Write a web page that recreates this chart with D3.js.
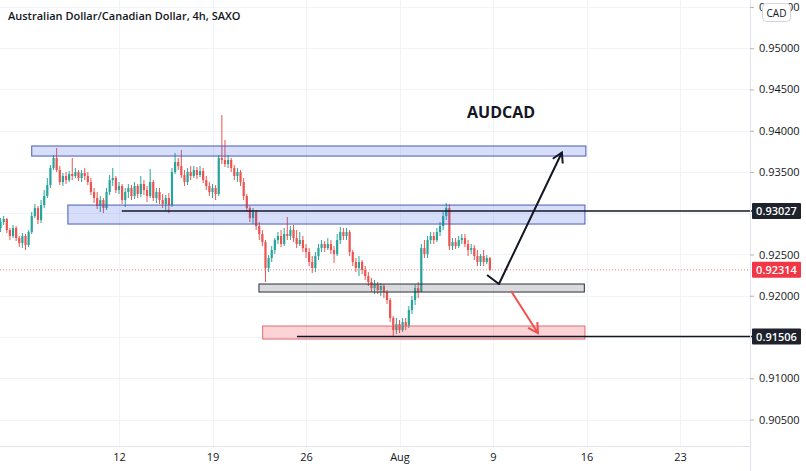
<!DOCTYPE html>
<html><head><meta charset="utf-8">
<script src="https://cdn.jsdelivr.net/npm/d3@7"></script>
<style>
body{margin:0;background:#fff;}
svg{display:block;font-family:"Open Sans","Noto Sans",sans-serif;}
</style>
</head><body>
<svg id="chart" width="806" height="471"></svg>
<script>
// ---- DATA ----
const title = "Australian Dollar/Canadian Dollar, 4h, SAXO";
const symbolText = "AUDCAD";
const currency = "CAD";
const opens = [0.92821,0.92893,0.92930,0.92796,0.92724,0.92821,0.92699,0.92639,0.92724,0.92615,
 0.92772,0.92966,0.93063,0.92918,0.93099,0.93208,0.93342,0.93548,0.93669,0.93524,
 0.93378,0.93451,0.93402,0.93475,0.93451,0.93499,0.93427,0.93487,0.93451,0.93378,
 0.93257,0.93184,0.93087,0.93160,0.93063,0.93257,0.93402,0.93427,0.93281,0.93330,
 0.93160,0.93257,0.93305,0.93208,0.93330,0.93233,0.93354,0.93281,0.93208,0.93378,
 0.93184,0.93257,0.93160,0.93112,0.93184,0.93099,0.93499,0.93621,0.93572,0.93463,
 0.93378,0.93499,0.93451,0.93524,0.93463,0.93511,0.93402,0.93330,0.93257,0.93305,
 0.93233,0.93669,0.93645,0.93596,0.93645,0.93548,0.93451,0.93499,0.93378,0.93208,
 0.93063,0.92942,0.93015,0.92845,0.92748,0.92651,0.92336,0.92457,0.92554,0.92675,
 0.92724,0.92627,0.92748,0.92724,0.92796,0.92699,0.92627,0.92675,0.92578,0.92530,
 0.92409,0.92336,0.92481,0.92578,0.92627,0.92578,0.92627,0.92554,0.92505,0.92675,
 0.92772,0.92724,0.92772,0.92530,0.92409,0.92336,0.92409,0.92312,0.92239,0.92166,
 0.92093,0.92142,0.92069,0.92118,0.92045,0.91948,0.91730,0.91584,0.91657,0.91584,
 0.91681,0.91633,0.91827,0.91948,0.92093,0.92045,0.92578,0.92505,0.92675,0.92724,
 0.92675,0.92772,0.92845,0.92966,0.93063,0.92602,0.92651,0.92602,0.92675,0.92699,
 0.92627,0.92554,0.92578,0.92481,0.92409,0.92481,0.92409,0.92457];
const highs = [0.92942,0.92966,0.92942,0.92821,0.92857,0.92845,0.92724,0.92760,0.92748,0.92796,
 0.93015,0.93112,0.93087,0.93160,0.93281,0.93427,0.93584,0.93705,0.93790,0.93572,
 0.93487,0.93499,0.93511,0.93669,0.93548,0.93524,0.93524,0.93548,0.93499,0.93427,
 0.93305,0.93257,0.93208,0.93184,0.93305,0.93463,0.93548,0.93451,0.93378,0.93354,
 0.93305,0.93354,0.93342,0.93378,0.93354,0.93451,0.93402,0.93330,0.93536,0.93402,
 0.93305,0.93305,0.93233,0.93221,0.93245,0.93548,0.93730,0.93669,0.93766,0.93524,
 0.93548,0.93572,0.93572,0.93560,0.93572,0.93548,0.93451,0.93378,0.93354,0.93342,
 0.93705,0.94190,0.93887,0.93705,0.93669,0.93584,0.93548,0.93524,0.93427,0.93233,
 0.93087,0.93063,0.93039,0.92893,0.92796,0.92675,0.92493,0.92602,0.92699,0.92772,
 0.92796,0.92821,0.92954,0.92845,0.92857,0.92796,0.92772,0.92724,0.92627,0.92578,
 0.92481,0.92530,0.92627,0.92675,0.92663,0.92699,0.92675,0.92602,0.92748,0.92833,
 0.92821,0.92821,0.92796,0.92554,0.92457,0.92481,0.92433,0.92360,0.92287,0.92214,
 0.92190,0.92166,0.92154,0.92142,0.92069,0.91972,0.91754,0.91730,0.91706,0.91730,
 0.91730,0.91875,0.91997,0.92142,0.92166,0.92627,0.92675,0.92724,0.92772,0.92772,
 0.92821,0.92893,0.93015,0.93124,0.93112,0.92699,0.92699,0.92724,0.92748,0.92748,
 0.92675,0.92627,0.92615,0.92554,0.92505,0.92554,0.92493,0.92469];
const lows = [0.92772,0.92857,0.92760,0.92675,0.92699,0.92663,0.92590,0.92578,0.92554,0.92590,
 0.92748,0.92942,0.92869,0.92881,0.93063,0.93184,0.93305,0.93524,0.93499,0.93342,
 0.93330,0.93354,0.93378,0.93402,0.93427,0.93390,0.93378,0.93402,0.93342,0.93221,
 0.93124,0.93051,0.93015,0.93002,0.93039,0.93221,0.93330,0.93245,0.93233,0.93112,
 0.93075,0.93184,0.93160,0.93172,0.93184,0.93196,0.93221,0.93136,0.93184,0.93148,
 0.93124,0.93112,0.93063,0.93039,0.93002,0.93075,0.93475,0.93524,0.93427,0.93330,
 0.93342,0.93402,0.93427,0.93415,0.93439,0.93366,0.93281,0.93208,0.93184,0.93160,
 0.93208,0.93596,0.93560,0.93548,0.93499,0.93402,0.93378,0.93330,0.93160,0.93015,
 0.92893,0.92869,0.92796,0.92675,0.92602,0.92166,0.92287,0.92409,0.92505,0.92627,
 0.92590,0.92602,0.92675,0.92675,0.92651,0.92578,0.92602,0.92530,0.92457,0.92360,
 0.92275,0.92287,0.92433,0.92530,0.92530,0.92554,0.92505,0.92396,0.92481,0.92627,
 0.92675,0.92675,0.92481,0.92360,0.92287,0.92239,0.92263,0.92190,0.92118,0.92045,
 0.92021,0.92021,0.91997,0.91972,0.91900,0.91681,0.91500,0.91536,0.91548,0.91560,
 0.91584,0.91609,0.91778,0.91887,0.91972,0.92045,0.92457,0.92457,0.92627,0.92627,
 0.92651,0.92724,0.92796,0.92918,0.92554,0.92554,0.92566,0.92578,0.92627,0.92590,
 0.92481,0.92505,0.92433,0.92360,0.92360,0.92360,0.92384,0.92299];
const closes = [0.92893,0.92930,0.92796,0.92724,0.92821,0.92699,0.92639,0.92724,0.92615,0.92772,
 0.92966,0.93063,0.92918,0.93099,0.93208,0.93342,0.93548,0.93669,0.93524,0.93378,
 0.93451,0.93402,0.93475,0.93451,0.93499,0.93427,0.93487,0.93451,0.93378,0.93257,
 0.93184,0.93087,0.93160,0.93063,0.93257,0.93402,0.93427,0.93281,0.93330,0.93160,
 0.93257,0.93305,0.93208,0.93330,0.93233,0.93354,0.93281,0.93208,0.93378,0.93184,
 0.93257,0.93160,0.93112,0.93184,0.93099,0.93499,0.93621,0.93572,0.93463,0.93378,
 0.93499,0.93451,0.93524,0.93463,0.93511,0.93402,0.93330,0.93257,0.93305,0.93233,
 0.93669,0.93645,0.93596,0.93645,0.93548,0.93451,0.93499,0.93378,0.93208,0.93063,
 0.92942,0.93015,0.92845,0.92748,0.92651,0.92336,0.92457,0.92554,0.92675,0.92724,
 0.92627,0.92748,0.92724,0.92796,0.92699,0.92627,0.92675,0.92578,0.92530,0.92409,
 0.92336,0.92481,0.92578,0.92627,0.92578,0.92627,0.92554,0.92505,0.92675,0.92772,
 0.92724,0.92772,0.92530,0.92409,0.92336,0.92409,0.92312,0.92239,0.92166,0.92093,
 0.92142,0.92069,0.92118,0.92045,0.91948,0.91730,0.91584,0.91657,0.91584,0.91681,
 0.91633,0.91827,0.91948,0.92093,0.92045,0.92578,0.92505,0.92675,0.92724,0.92675,
 0.92772,0.92845,0.92966,0.93063,0.92602,0.92651,0.92602,0.92675,0.92699,0.92627,
 0.92554,0.92578,0.92481,0.92409,0.92481,0.92409,0.92457,0.92314];

// time axis: bar index of each date label
const dateTickBars = [38, 68, 98, 128, 158, 188, 218];
const dateTickLabels = ["12", "19", "26", "Aug", "9", "16", "23"];
// price axis
const priceTicks = [0.955, 0.95, 0.945, 0.94, 0.935, 0.93, 0.925, 0.92, 0.915, 0.91, 0.905];
const hiddenPriceLabels = [0.93, 0.915];
// drawings (in bar index / price)
const zoneKind   = ["blue", "blue", "gray", "pink"];
const zoneStart  = [10.0, 21.6, 82.9, 84.1];
const zoneEnd    = [187.8, 187.5, 187.3, 187.5];
const zoneTop    = [0.93815, 0.93099, 0.92142, 0.91633];
const zoneBottom = [0.93693, 0.92869, 0.92045, 0.91475];
const levelPrices = [0.93027, 0.91506];
const levelStart  = [38.9, 95.1];
const lastPrice = 0.92314;
const bullPathBars   = [156.1, 159.9, 180.1];
const bullPathPrices = [0.92251, 0.92142, 0.93736];
const bearPathBars   = [163.8, 172.4];
const bearPathPrices = [0.92057, 0.91548];
const symbolBar = 160.6, symbolPrice = 0.94160;

// ---- CHART ----
const W = 806, H = 471, plotRight = 750, plotBottom = 446;
const svg = d3.select("#chart");
const x = d3.scaleLinear().domain([38, 218]).range([119, 680]);
const y = d3.scaleLinear().domain([0.93027, 0.91506]).range([211, 336.5]);
const up = "#26a69a", down = "#ef5350";

svg.append("rect").attr("width", W).attr("height", H).attr("fill", "#fff");
svg.append("defs").append("clipPath").attr("id", "plotclip")
  .append("rect").attr("x", 0).attr("y", 0).attr("width", plotRight).attr("height", plotBottom);

// grid
const grid = svg.append("g").attr("clip-path", "url(#plotclip)");
grid.selectAll("line.h").data(priceTicks).join("line").attr("class", "h")
  .attr("x1", 0).attr("x2", plotRight).attr("y1", d => Math.round(y(d)) + 0.5).attr("y2", d => Math.round(y(d)) + 0.5)
  .attr("stroke", "#f0f3fa").attr("stroke-width", 1);
grid.selectAll("line.v").data(dateTickBars).join("line").attr("class", "v")
  .attr("y1", 0).attr("y2", plotBottom).attr("x1", d => Math.round(x(d)) + 0.5).attr("x2", d => Math.round(x(d)) + 0.5)
  .attr("stroke", "#f0f3fa").attr("stroke-width", 1);

// candles
const bars = d3.range(closes.length).map(i => ({i, o: opens[i], h: highs[i], l: lows[i], c: closes[i]}));
const cg = svg.append("g").attr("clip-path", "url(#plotclip)");
cg.selectAll("line.wick").data(bars).join("line").attr("class", "wick")
  .attr("x1", d => x(d.i)).attr("x2", d => x(d.i))
  .attr("y1", d => y(d.h)).attr("y2", d => y(d.l))
  .attr("stroke", d => d.c >= d.o ? up : down).attr("stroke-width", 1);
cg.selectAll("rect.body").data(bars).join("rect").attr("class", "body")
  .attr("x", d => x(d.i) - 1.1).attr("width", 2.2)
  .attr("y", d => Math.min(y(d.o), y(d.c)))
  .attr("height", d => Math.max(1, Math.abs(y(d.o) - y(d.c))))
  .attr("fill", d => d.c >= d.o ? up : down);

// last price dotted line
svg.append("line").attr("x1", 0).attr("x2", plotRight)
  .attr("y1", y(lastPrice)).attr("y2", y(lastPrice))
  .attr("stroke", down).attr("stroke-width", 1).attr("stroke-dasharray", "1,2").attr("opacity", 0.7);

// zones
const zoneFill = {blue: "rgba(41,82,230,0.19)", gray: "rgba(120,123,134,0.28)", pink: "rgba(242,54,69,0.22)"};
const zoneStroke = {blue: "#4a5bb0", gray: "#2a2e39", pink: "#e06b70"};
const zones = zoneKind.map((k, j) => ({k, x0: zoneStart[j], x1: zoneEnd[j], t: zoneTop[j], b: zoneBottom[j]}));
svg.append("g").selectAll("rect").data(zones).join("rect")
  .attr("x", d => x(d.x0)).attr("width", d => x(d.x1) - x(d.x0))
  .attr("y", d => y(d.t)).attr("height", d => y(d.b) - y(d.t))
  .attr("fill", d => zoneFill[d.k]).attr("stroke", d => zoneStroke[d.k]).attr("stroke-width", 1);

// horizontal levels
svg.append("g").selectAll("line").data(levelPrices).join("line")
  .attr("x1", (d, j) => x(levelStart[j])).attr("x2", plotRight + 6)
  .attr("y1", d => y(d)).attr("y2", d => y(d))
  .attr("stroke", "#131722").attr("stroke-width", 1.6);

// arrows
function arrow(barsArr, pricesArr, color) {
  const pts = barsArr.map((b, j) => [x(b), y(pricesArr[j])]);
  svg.append("path").attr("d", d3.line()(pts)).attr("fill", "none")
    .attr("stroke", color).attr("stroke-width", 2).attr("stroke-linejoin", "round");
  const [ax, ay] = pts[pts.length - 2], [bx, by] = pts[pts.length - 1];
  const ang = Math.atan2(by - ay, bx - ax), L = 11, sp = Math.PI / 6;
  const head = [[bx - L * Math.cos(ang - sp), by - L * Math.sin(ang - sp)], [bx, by],
                [bx - L * Math.cos(ang + sp), by - L * Math.sin(ang + sp)]];
  svg.append("path").attr("d", d3.line()(head)).attr("fill", "none")
    .attr("stroke", color).attr("stroke-width", 2).attr("stroke-linejoin", "miter");
}
arrow(bullPathBars, bullPathPrices, "#131722");
arrow(bearPathBars, bearPathPrices, "#f0504f");

// symbol text
svg.append("text").attr("x", x(symbolBar)).attr("y", y(symbolPrice)).attr("text-anchor", "middle")
  .attr("font-size", 16).attr("font-weight", 700).attr("fill", "#131722").text(symbolText);

// title
svg.append("text").attr("x", 8).attr("y", 20).attr("font-size", 11).attr("font-weight", 600)
  .attr("fill", "#131722").text(title);

// axes borders
svg.append("line").attr("x1", plotRight + 0.5).attr("x2", plotRight + 0.5).attr("y1", 0).attr("y2", H)
  .attr("stroke", "#e0e3eb");
svg.append("line").attr("x1", 0).attr("x2", plotRight).attr("y1", plotBottom + 0.5).attr("y2", plotBottom + 0.5)
  .attr("stroke", "#e0e3eb");

// price axis
const yAxis = d3.axisRight(y).tickValues(priceTicks.filter(p => !hiddenPriceLabels.includes(p)))
  .tickFormat(d3.format(".5f")).tickSize(4).tickPadding(5);
const ya = svg.append("g").attr("transform", `translate(${plotRight},0)`).call(yAxis);
ya.select(".domain").remove();
ya.selectAll(".tick line").attr("stroke", "#b2b5be");
ya.selectAll(".tick text").attr("font-size", 11).attr("fill", "#131722")
  .attr("font-family", "'Open Sans',sans-serif");

// time axis
const xAxis = d3.axisBottom(x).tickValues(dateTickBars).tickFormat((d, j) => dateTickLabels[j]).tickSize(0).tickPadding(7);
const xa = svg.append("g").attr("transform", `translate(0,${plotBottom})`).call(xAxis);
xa.select(".domain").remove();
xa.selectAll(".tick text").attr("font-size", 11).attr("fill", "#131722")
  .attr("font-family", "'Open Sans',sans-serif");

// price label boxes
const labelPrices = [levelPrices[0], lastPrice, levelPrices[1]];
const labelColors = ["#1e222d", "#f23645", "#1e222d"];
const lg = svg.append("g");
labelPrices.forEach((p, j) => {
  lg.append("rect").attr("x", plotRight + 2).attr("y", y(p) - 8).attr("width", 49).attr("height", 16)
    .attr("rx", 1).attr("fill", labelColors[j]);
  lg.append("text").attr("x", plotRight + 26.5).attr("y", y(p) + 4).attr("text-anchor", "middle")
    .attr("font-size", 11).attr("font-weight", 600).attr("fill", "#fff").text(d3.format(".5f")(p));
});

// currency badge (covers the top price label as in the original)
svg.append("rect").attr("x", 762.5).attr("y", 3.5).attr("width", 28).attr("height", 18).attr("rx", 4)
  .attr("fill", "#fff").attr("stroke", "#d1d4dc");
svg.append("text").attr("x", 776.5).attr("y", 16.5).attr("text-anchor", "middle").attr("font-size", 10)
  .attr("fill", "#131722").text(currency);
</script>
</body></html>
